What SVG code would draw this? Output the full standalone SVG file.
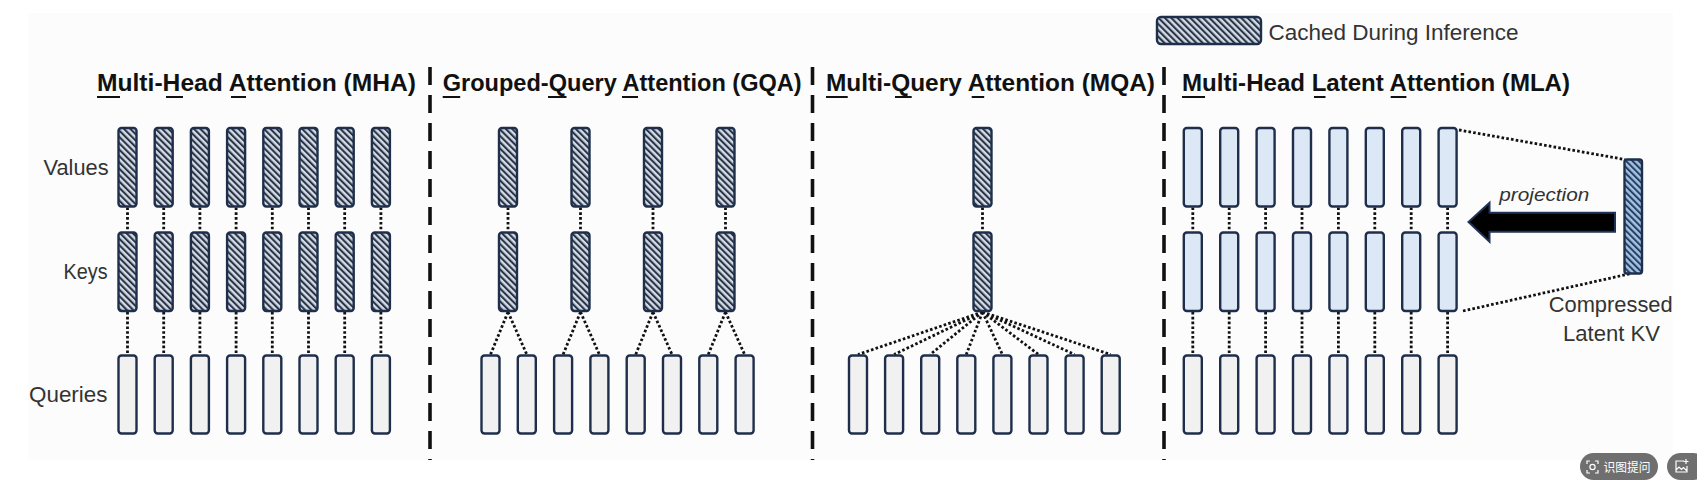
<svg xmlns="http://www.w3.org/2000/svg" width="1697" height="485" viewBox="0 0 1697 485">
<defs>
<pattern id="hatch" width="4.5" height="4.5" patternUnits="userSpaceOnUse" patternTransform="rotate(-45)">
<rect width="4.5" height="4.5" fill="#d3dce6"/>
<rect width="2.1" height="4.5" fill="#2b3446"/>
</pattern>
<pattern id="hatchBlue" width="4.5" height="4.5" patternUnits="userSpaceOnUse" patternTransform="rotate(-45)">
<rect width="4.5" height="4.5" fill="#a3c1e4"/>
<rect width="2" height="4.5" fill="#26405f"/>
</pattern>
<style>
.cached{fill:url(#hatch);stroke:#1f2f4b;stroke-width:2.4}
.mla{fill:#dce8f5;stroke:#1f2f4b;stroke-width:2.4}
.query{fill:#f1f1f1;stroke:#1f2f4b;stroke-width:2.4}
.latent{fill:url(#hatchBlue);stroke:#1f2f4b;stroke-width:2.4}
.dot{stroke:#111;stroke-width:2.8;stroke-dasharray:2.6 2.2;fill:none}
.sep{stroke:#111;stroke-width:3.6;stroke-dasharray:18 10;fill:none}
.title{font-family:"Liberation Sans",Arial,sans-serif;font-weight:bold;font-size:24px;fill:#111}
.label{font-family:"Liberation Sans",Arial,sans-serif;font-size:22px;fill:#333}
.ul{fill:#111}
</style>
</defs>
<rect x="0" y="0" width="1697" height="485" fill="#ffffff"/>
<rect x="28" y="13" width="1645" height="447" fill="#fcfcfc"/>

<!-- separators -->
<g id="separators">
<line class="sep" x1="430" y1="67" x2="430" y2="460"/>
<line class="sep" x1="812.5" y1="67" x2="812.5" y2="460"/>
<line class="sep" x1="1164" y1="67" x2="1164" y2="460"/>
</g>

<!-- legend -->
<g id="legend">
<rect class="cached" x="1157" y="17" width="104" height="27" rx="4"/>
<text class="label" x="1268.5" y="39.5" font-size="20" textLength="250" lengthAdjust="spacingAndGlyphs">Cached During Inference</text>
</g>

<!-- titles -->
<g id="titles">
<text class="title" x="97" y="91" textLength="319" lengthAdjust="spacingAndGlyphs">Multi-Head Attention (MHA)</text>
<rect class="ul" x="97" y="96" width="23" height="2"/>
<rect class="ul" x="166" y="96" width="17" height="2"/>
<rect class="ul" x="231" y="96" width="15" height="2"/>
<text class="title" x="442.7" y="91" textLength="359" lengthAdjust="spacingAndGlyphs">Grouped-Query Attention (GQA)</text>
<rect class="ul" x="442.7" y="96" width="17.5" height="2"/>
<rect class="ul" x="548" y="96" width="18.5" height="2"/>
<rect class="ul" x="622" y="96" width="16" height="2"/>
<text class="title" x="826" y="91" textLength="329" lengthAdjust="spacingAndGlyphs">Multi-Query Attention (MQA)</text>
<rect class="ul" x="826" y="96" width="21.7" height="2"/>
<rect class="ul" x="895" y="96" width="16.7" height="2"/>
<rect class="ul" x="971.7" y="96" width="12.5" height="2"/>
<text class="title" x="1182" y="91" textLength="388" lengthAdjust="spacingAndGlyphs">Multi-Head Latent Attention (MLA)</text>
<rect class="ul" x="1182" y="96" width="23" height="2"/>
<rect class="ul" x="1314" y="96" width="11.5" height="2"/>
<rect class="ul" x="1390.7" y="96" width="15.7" height="2"/>
</g>

<!-- row labels -->
<g id="row-labels">
<text class="label" x="43.6" y="175" textLength="65" lengthAdjust="spacingAndGlyphs">Values</text>
<text class="label" x="63.6" y="279" textLength="44" lengthAdjust="spacingAndGlyphs">Keys</text>
<text class="label" x="29" y="401.5" textLength="78.5" lengthAdjust="spacingAndGlyphs">Queries</text>
</g>

<!-- connectors -->
<g id="connectors">
<!-- MHA -->
<path class="dot" d="M127.5 207.5V231.5M127.5 312V354.5M163.7 207.5V231.5M163.7 312V354.5M199.9 207.5V231.5M199.9 312V354.5M236.1 207.5V231.5M236.1 312V354.5M272.3 207.5V231.5M272.3 312V354.5M308.5 207.5V231.5M308.5 312V354.5M344.7 207.5V231.5M344.7 312V354.5M380.9 207.5V231.5M380.9 312V354.5"/>
<!-- GQA -->
<path class="dot" d="M508 207.5V231.5M580.5 207.5V231.5M653 207.5V231.5M725.5 207.5V231.5"/>
<path class="dot" d="M508 312L490.5 354.5M508 312L526.8 354.5M580.5 312L563.1 354.5M580.5 312L599.4 354.5M653 312L635.7 354.5M653 312L672 354.5M725.5 312L708.3 354.5M725.5 312L744.6 354.5"/>
<!-- MQA -->
<path class="dot" d="M982.5 207.5V231.5"/>
<path class="dot" d="M982.5 312L858 354.5M982.5 312L894.1 354.5M982.5 312L930.2 354.5M982.5 312L966.3 354.5M982.5 312L1002.4 354.5M982.5 312L1038.5 354.5M982.5 312L1074.6 354.5M982.5 312L1110.7 354.5"/>
<!-- MLA -->
<path class="dot" d="M1192.8 207.5V231.5M1192.8 312V354.5M1229.2 207.5V231.5M1229.2 312V354.5M1265.6 207.5V231.5M1265.6 312V354.5M1302 207.5V231.5M1302 312V354.5M1338.4 207.5V231.5M1338.4 312V354.5M1374.8 207.5V231.5M1374.8 312V354.5M1411.2 207.5V231.5M1411.2 312V354.5M1447.6 207.5V231.5M1447.6 312V354.5"/>
<path class="dot" d="M1459 130L1625 159.5M1463 311L1631 273.5"/>
</g>

<!-- MHA nodes -->
<g id="mha-v1"><rect class="cached" x="118.5" y="128" width="18" height="78.5" rx="3"/></g>
<g id="mha-v2"><rect class="cached" x="154.7" y="128" width="18" height="78.5" rx="3"/></g>
<g id="mha-v3"><rect class="cached" x="190.9" y="128" width="18" height="78.5" rx="3"/></g>
<g id="mha-v4"><rect class="cached" x="227.1" y="128" width="18" height="78.5" rx="3"/></g>
<g id="mha-v5"><rect class="cached" x="263.3" y="128" width="18" height="78.5" rx="3"/></g>
<g id="mha-v6"><rect class="cached" x="299.5" y="128" width="18" height="78.5" rx="3"/></g>
<g id="mha-v7"><rect class="cached" x="335.7" y="128" width="18" height="78.5" rx="3"/></g>
<g id="mha-v8"><rect class="cached" x="371.9" y="128" width="18" height="78.5" rx="3"/></g>
<g id="mha-k1"><rect class="cached" x="118.5" y="232.5" width="18" height="78.5" rx="3"/></g>
<g id="mha-k2"><rect class="cached" x="154.7" y="232.5" width="18" height="78.5" rx="3"/></g>
<g id="mha-k3"><rect class="cached" x="190.9" y="232.5" width="18" height="78.5" rx="3"/></g>
<g id="mha-k4"><rect class="cached" x="227.1" y="232.5" width="18" height="78.5" rx="3"/></g>
<g id="mha-k5"><rect class="cached" x="263.3" y="232.5" width="18" height="78.5" rx="3"/></g>
<g id="mha-k6"><rect class="cached" x="299.5" y="232.5" width="18" height="78.5" rx="3"/></g>
<g id="mha-k7"><rect class="cached" x="335.7" y="232.5" width="18" height="78.5" rx="3"/></g>
<g id="mha-k8"><rect class="cached" x="371.9" y="232.5" width="18" height="78.5" rx="3"/></g>
<g id="mha-q1"><rect class="query" x="118.5" y="355.5" width="18" height="78" rx="3"/></g>
<g id="mha-q2"><rect class="query" x="154.7" y="355.5" width="18" height="78" rx="3"/></g>
<g id="mha-q3"><rect class="query" x="190.9" y="355.5" width="18" height="78" rx="3"/></g>
<g id="mha-q4"><rect class="query" x="227.1" y="355.5" width="18" height="78" rx="3"/></g>
<g id="mha-q5"><rect class="query" x="263.3" y="355.5" width="18" height="78" rx="3"/></g>
<g id="mha-q6"><rect class="query" x="299.5" y="355.5" width="18" height="78" rx="3"/></g>
<g id="mha-q7"><rect class="query" x="335.7" y="355.5" width="18" height="78" rx="3"/></g>
<g id="mha-q8"><rect class="query" x="371.9" y="355.5" width="18" height="78" rx="3"/></g>

<!-- GQA nodes -->
<g id="gqa-v1"><rect class="cached" x="499" y="128" width="18" height="78.5" rx="3"/></g>
<g id="gqa-v2"><rect class="cached" x="571.5" y="128" width="18" height="78.5" rx="3"/></g>
<g id="gqa-v3"><rect class="cached" x="644" y="128" width="18" height="78.5" rx="3"/></g>
<g id="gqa-v4"><rect class="cached" x="716.5" y="128" width="18" height="78.5" rx="3"/></g>
<g id="gqa-k1"><rect class="cached" x="499" y="232.5" width="18" height="78.5" rx="3"/></g>
<g id="gqa-k2"><rect class="cached" x="571.5" y="232.5" width="18" height="78.5" rx="3"/></g>
<g id="gqa-k3"><rect class="cached" x="644" y="232.5" width="18" height="78.5" rx="3"/></g>
<g id="gqa-k4"><rect class="cached" x="716.5" y="232.5" width="18" height="78.5" rx="3"/></g>
<g id="gqa-q1"><rect class="query" x="481.5" y="355.5" width="18" height="78" rx="3"/></g>
<g id="gqa-q2"><rect class="query" x="517.8" y="355.5" width="18" height="78" rx="3"/></g>
<g id="gqa-q3"><rect class="query" x="554.1" y="355.5" width="18" height="78" rx="3"/></g>
<g id="gqa-q4"><rect class="query" x="590.4" y="355.5" width="18" height="78" rx="3"/></g>
<g id="gqa-q5"><rect class="query" x="626.7" y="355.5" width="18" height="78" rx="3"/></g>
<g id="gqa-q6"><rect class="query" x="663" y="355.5" width="18" height="78" rx="3"/></g>
<g id="gqa-q7"><rect class="query" x="699.3" y="355.5" width="18" height="78" rx="3"/></g>
<g id="gqa-q8"><rect class="query" x="735.6" y="355.5" width="18" height="78" rx="3"/></g>

<!-- MQA nodes -->
<g id="mqa-v"><rect class="cached" x="973.5" y="128" width="18" height="78.5" rx="3"/></g>
<g id="mqa-k"><rect class="cached" x="973.5" y="232.5" width="18" height="78.5" rx="3"/></g>
<g id="mqa-q1"><rect class="query" x="849" y="355.5" width="18" height="78" rx="3"/></g>
<g id="mqa-q2"><rect class="query" x="885.1" y="355.5" width="18" height="78" rx="3"/></g>
<g id="mqa-q3"><rect class="query" x="921.2" y="355.5" width="18" height="78" rx="3"/></g>
<g id="mqa-q4"><rect class="query" x="957.3" y="355.5" width="18" height="78" rx="3"/></g>
<g id="mqa-q5"><rect class="query" x="993.4" y="355.5" width="18" height="78" rx="3"/></g>
<g id="mqa-q6"><rect class="query" x="1029.5" y="355.5" width="18" height="78" rx="3"/></g>
<g id="mqa-q7"><rect class="query" x="1065.6" y="355.5" width="18" height="78" rx="3"/></g>
<g id="mqa-q8"><rect class="query" x="1101.7" y="355.5" width="18" height="78" rx="3"/></g>

<!-- MLA nodes -->
<g id="mla-v1"><rect class="mla" x="1183.8" y="128" width="18" height="78.5" rx="3"/></g>
<g id="mla-v2"><rect class="mla" x="1220.2" y="128" width="18" height="78.5" rx="3"/></g>
<g id="mla-v3"><rect class="mla" x="1256.6" y="128" width="18" height="78.5" rx="3"/></g>
<g id="mla-v4"><rect class="mla" x="1293" y="128" width="18" height="78.5" rx="3"/></g>
<g id="mla-v5"><rect class="mla" x="1329.4" y="128" width="18" height="78.5" rx="3"/></g>
<g id="mla-v6"><rect class="mla" x="1365.8" y="128" width="18" height="78.5" rx="3"/></g>
<g id="mla-v7"><rect class="mla" x="1402.2" y="128" width="18" height="78.5" rx="3"/></g>
<g id="mla-v8"><rect class="mla" x="1438.6" y="128" width="18" height="78.5" rx="3"/></g>
<g id="mla-k1"><rect class="mla" x="1183.8" y="232.5" width="18" height="78.5" rx="3"/></g>
<g id="mla-k2"><rect class="mla" x="1220.2" y="232.5" width="18" height="78.5" rx="3"/></g>
<g id="mla-k3"><rect class="mla" x="1256.6" y="232.5" width="18" height="78.5" rx="3"/></g>
<g id="mla-k4"><rect class="mla" x="1293" y="232.5" width="18" height="78.5" rx="3"/></g>
<g id="mla-k5"><rect class="mla" x="1329.4" y="232.5" width="18" height="78.5" rx="3"/></g>
<g id="mla-k6"><rect class="mla" x="1365.8" y="232.5" width="18" height="78.5" rx="3"/></g>
<g id="mla-k7"><rect class="mla" x="1402.2" y="232.5" width="18" height="78.5" rx="3"/></g>
<g id="mla-k8"><rect class="mla" x="1438.6" y="232.5" width="18" height="78.5" rx="3"/></g>
<g id="mla-q1"><rect class="query" x="1183.8" y="355.5" width="18" height="78" rx="3"/></g>
<g id="mla-q2"><rect class="query" x="1220.2" y="355.5" width="18" height="78" rx="3"/></g>
<g id="mla-q3"><rect class="query" x="1256.6" y="355.5" width="18" height="78" rx="3"/></g>
<g id="mla-q4"><rect class="query" x="1293" y="355.5" width="18" height="78" rx="3"/></g>
<g id="mla-q5"><rect class="query" x="1329.4" y="355.5" width="18" height="78" rx="3"/></g>
<g id="mla-q6"><rect class="query" x="1365.8" y="355.5" width="18" height="78" rx="3"/></g>
<g id="mla-q7"><rect class="query" x="1402.2" y="355.5" width="18" height="78" rx="3"/></g>
<g id="mla-q8"><rect class="query" x="1438.6" y="355.5" width="18" height="78" rx="3"/></g>

<!-- latent KV -->
<g id="latent-kv">
<rect class="latent" x="1624.5" y="159.5" width="17.5" height="114" rx="2.5"/>
<text class="label" x="1548.7" y="311.5" textLength="124" lengthAdjust="spacingAndGlyphs">Compressed</text>
<text class="label" x="1563" y="341" textLength="97" lengthAdjust="spacingAndGlyphs">Latent KV</text>
</g>

<!-- projection arrow -->
<g id="projection">
<polygon points="1615,212.7 1489.5,212.7 1489.5,202.7 1468.5,222 1489.5,241.7 1489.5,231.7 1615,231.7" fill="#000" stroke="#1f3356" stroke-width="2" stroke-linejoin="miter"/>
<text x="1499.3" y="200.5" font-family="'Liberation Sans',Arial,sans-serif" font-style="italic" font-size="19" fill="#333" textLength="90" lengthAdjust="spacingAndGlyphs">projection</text>
</g>

<!-- screenshot overlay buttons -->
<g id="overlay">
<rect x="1580" y="453" width="78" height="27" rx="13.5" fill="#6f6f6f"/>
<path d="M1587 464v-3h3M1595 461h3v3M1598 470v3h-3M1590 473h-3v-3" fill="none" stroke="#fff" stroke-width="1.2"/>
<circle cx="1592.5" cy="467" r="2.6" fill="none" stroke="#fff" stroke-width="1.2"/>
<text x="1603.5" y="471.5" font-family="'Noto Sans CJK SC',sans-serif" font-size="12.5" fill="#fff" textLength="47" lengthAdjust="spacingAndGlyphs">识图提问</text>
<rect x="1667" y="453" width="40" height="27" rx="13.5" fill="#6f6f6f"/>
<path d="M1684 461h-8v11h11v-6M1676 470l3-3 2.5 2.5 2-2 3.5 3.5M1686 459v5M1683.5 461.5h5" fill="none" stroke="#fff" stroke-width="1.2"/>
</g>
</svg>
